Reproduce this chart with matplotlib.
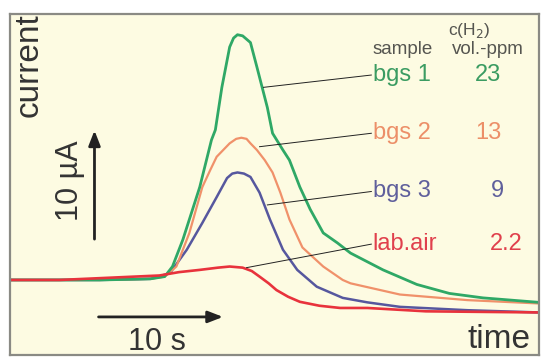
import matplotlib.pyplot as plt

plt.rcParams['font.family'] = ['Liberation Sans', 'DejaVu Sans']

# time in s, current in uA (baseline = 0)
t_green = [0, 6.9, 10.8, 11.9, 12.5, 13.3, 14.6, 15.5, 15.8, 16.3, 16.9, 17.2, 17.5, 17.9, 18.5, 19.0, 19.4, 19.8, 20.2, 21.0, 21.5, 22.3, 23.1, 24.1, 25.2, 26.2, 28.7, 31.3, 33.8, 36.4, 40.7]
i_green = [0, 0, 0.1, 0.3, 1.2, 3.6, 8.3, 12.5, 13.4, 17.2, 20.8, 21.6, 21.9, 21.8, 21.2, 19.0, 17.2, 15.4, 13.1, 11.6, 10.7, 8.3, 6.3, 4.2, 3.3, 2.4, 0.9, -0.4, -1.2, -1.6, -2.0]

t_orange = [0, 6.9, 10.8, 11.9, 12.8, 13.8, 14.8, 15.4, 15.9, 16.9, 17.4, 17.8, 18.2, 18.5, 19.0, 19.6, 20.2, 20.8, 21.5, 22.5, 24.1, 25.6, 26.2, 30.0, 35.2, 40.7]
i_orange = [0, 0, 0.1, 0.3, 1.2, 4.2, 8.3, 9.8, 11.0, 12.2, 12.6, 12.7, 12.6, 12.2, 11.6, 10.7, 9.6, 7.8, 5.4, 2.9, 1.2, 0, -0.3, -1.3, -1.8, -2.1]

t_blue = [0, 6.9, 10.8, 12.3, 13.6, 14.8, 15.9, 16.7, 17.1, 17.5, 18.0, 18.5, 19.2, 20.0, 21.0, 22.1, 23.6, 25.6, 27.5, 30.0, 35.2, 40.7]
i_blue = [0, 0, 0.1, 0.6, 2.7, 5.1, 7.4, 9.1, 9.5, 9.6, 9.5, 9.2, 7.8, 5.4, 2.7, 0.9, -0.6, -1.6, -2.0, -2.4, -2.7, -2.9]

t_red = [0, 3.8, 11.5, 13.0, 14.6, 16.0, 16.9, 17.9, 18.6, 19.2, 19.9, 20.5, 21.4, 22.3, 23.8, 25.4, 27.5, 32.0, 40.7]
i_red = [0, 0, 0.4, 0.7, 0.9, 1.1, 1.2, 1.1, 0.8, 0.3, -0.3, -0.9, -1.5, -1.95, -2.3, -2.5, -2.5, -2.8, -2.9]

samples = ['bgs 1', 'bgs 2', 'bgs 3', 'lab.air']
ppm = ['23', '13', '9', '2.2']
colors = ['#2fa866', '#f0916a', '#56579e', '#e8323c']
text_colors = ['#3b9c62', '#ec8f68', '#5f5f9c', '#e0404c']

# where each leader line touches its curve (s, uA)
leader_t = [19.5, 19.2, 19.8, 18.2]
leader_i = [17.2, 11.9, 6.7, 1.1]

fig = plt.figure(figsize=(5.41, 3.59), dpi=100)
ax = fig.add_axes([10 / 541, 4 / 359, 529 / 541, 341 / 359])
ax.set_facecolor('#fdfbe2')
for s in ax.spines.values():
    s.set_color('#8a8a84')
    s.set_linewidth(1.6)
ax.set_xticks([])
ax.set_yticks([])
ax.set_xlim(0, 40.7)
ax.set_ylim(-6.7, 23.75)

ax.plot(t_blue, i_blue, color=colors[2], lw=1.8)
ax.plot(t_orange, i_orange, color=colors[1], lw=1.6)
ax.plot(t_green, i_green, color=colors[0], lw=2.0)
ax.plot(t_red, i_red, color=colors[3], lw=1.9)

# labels and leader lines
label_y = [18.3, 13.1, 7.9, 3.2]
num_x = [36.8, 36.8, 37.5, 38.2]
for k in range(4):
    ax.plot([leader_t[k], 27.8], [leader_i[k], label_y[k]], color='#222', lw=0.7)
    ax.text(27.9, label_y[k], samples[k], color=text_colors[k], fontsize=17,
            va='center', ha='left')
    ax.text(num_x[k], label_y[k], ppm[k], color=text_colors[k], fontsize=17,
            va='center', ha='center')

ax.text(30.2, 20.6, 'sample', color='#555550', fontsize=13.5, ha='center', va='center')
ax.text(36.8, 20.6, 'vol.-ppm', color='#555550', fontsize=13.5, ha='center', va='center')
ax.text(35.3, 22.3, 'c(H$_2$)', color='#555550', fontsize=12.5, ha='center', va='center')

# scale arrows: 10 s and 10 uA
ax.annotate('', xy=(16.6, -3.3), xytext=(6.6, -3.3),
            arrowprops=dict(arrowstyle='-|>,head_length=0.9,head_width=0.35', color='#222', lw=2))
ax.annotate('', xy=(6.5, 13.6), xytext=(6.5, 3.4),
            arrowprops=dict(arrowstyle='-|>,head_length=0.9,head_width=0.35', color='#222', lw=2))
ax.text(11.3, -5.5, '10 s', fontsize=22, color='#333', ha='center', va='center')
ax.text(4.6, 8.9, '10 µA', fontsize=22, color='#333', ha='center', va='center', rotation=90)

ax.text(1.5, 19.2, 'current', fontsize=24, color='#333', ha='center', va='center', rotation=90)
ax.text(37.6, -5.3, 'time', fontsize=24, color='#333', ha='center', va='center')

fig.savefig('out.png', dpi=100)
